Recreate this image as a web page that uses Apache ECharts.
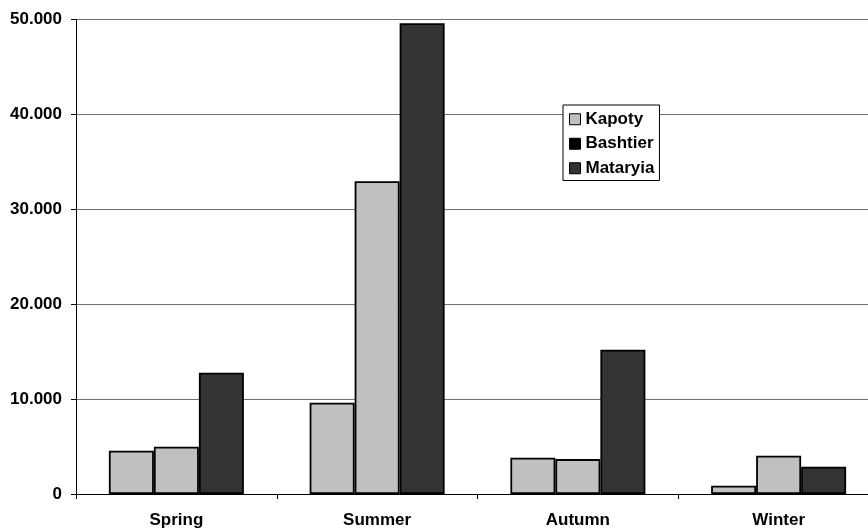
<!DOCTYPE html>
<html>
<head>
<meta charset="utf-8">
<script src="https://cdn.jsdelivr.net/npm/echarts@6/dist/echarts.min.js"></script>
<style>
  html, body { margin: 0; padding: 0; background: #fff; }
  #chart { width: 868px; height: 529px; }
</style>
</head>
<body>
<div id="chart"></div>
<script>
// Seasonal totals per site
const seasons = ['Spring', 'Summer', 'Autumn', 'Winter'];
const kapoty = [4550, 9610, 3820, 880];
const bashtier = [4980, 32950, 3680, 4030];
const mataryia = [12780, 49600, 15210, 2870];
const yTicks = [0, 10000, 20000, 30000, 40000, 50000];

const FONT = '"Liberation Sans", Arial, sans-serif';
const LIGHT = '#c0c0c0';
const DARK = '#333333';

function fmt(v) {
  // thousands separated by a dot
  return String(v).replace(/\B(?=(\d{3})+(?!\d))/g, '.');
}

function barSeries(name, data, color) {
  return {
    name: name,
    type: 'bar',
    data: data,
    barWidth: 45,
    barGap: '0%',
    itemStyle: { color: color, borderColor: '#000', borderWidth: 1.8 },
    emphasis: { disabled: true },
    animation: false
  };
}

const chart = echarts.init(document.getElementById('chart'), null, { renderer: 'canvas' });
chart.setOption({
  backgroundColor: '#fff',
  animation: false,
  // the plot runs a little past the right edge of the canvas
  grid: { left: 76, width: 803, top: 19.5, height: 474.5, containLabel: false, outerBoundsMode: 'none' },
  legend: {
    orient: 'vertical',
    left: 563,
    top: 105,
    padding: [5, 5, 3, 6],
    itemWidth: 11,
    itemHeight: 11,
    itemGap: 6,
    backgroundColor: '#fff',
    borderColor: '#000',
    borderWidth: 1,
    icon: 'rect',
    itemStyle: { borderColor: '#000', borderWidth: 1 },
    textStyle: { fontFamily: FONT, fontWeight: 'bold', fontSize: 17, color: '#000', lineHeight: 18.5 },
    data: [
      { name: 'Kapoty', itemStyle: { color: LIGHT } },
      { name: 'Bashtier', itemStyle: { color: '#000' } },
      { name: 'Mataryia', itemStyle: { color: DARK } }
    ]
  },
  xAxis: {
    type: 'category',
    data: seasons,
    axisLine: { lineStyle: { color: '#000', width: 1 } },
    axisTick: { show: true, length: 5, inside: false, lineStyle: { color: '#000' } },
    axisLabel: { fontFamily: FONT, fontWeight: 'bold', fontSize: 17, color: '#000', margin: 18 },
    splitLine: { show: false }
  },
  yAxis: {
    type: 'value',
    min: yTicks[0],
    max: yTicks[yTicks.length - 1],
    interval: yTicks[1] - yTicks[0],
    axisLine: { show: true, lineStyle: { color: '#000', width: 1 } },
    axisTick: { show: true, length: 5, lineStyle: { color: '#000' } },
    axisLabel: { fontFamily: FONT, fontWeight: 'bold', fontSize: 17, color: '#000', margin: 14, formatter: fmt },
    splitLine: { show: true, lineStyle: { color: '#707070', width: 1.2 } }
  },
  series: [
    barSeries('Kapoty', kapoty, LIGHT),
    barSeries('Bashtier', bashtier, LIGHT),
    barSeries('Mataryia', mataryia, DARK)
  ]
});
</script>
</body>
</html>
